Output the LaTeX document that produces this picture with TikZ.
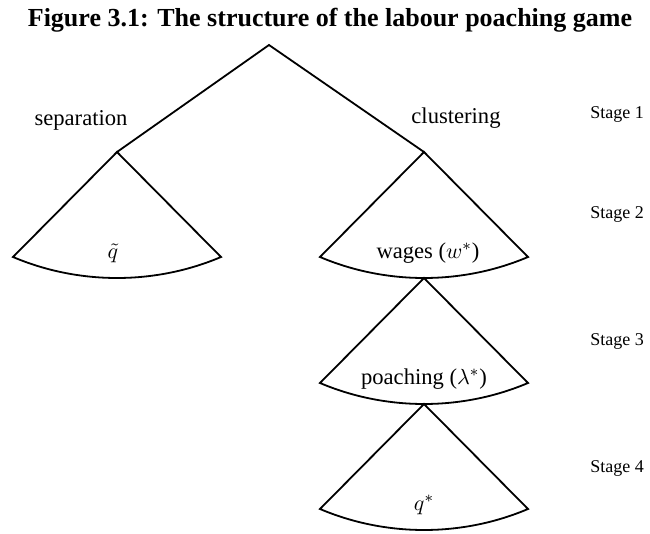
\documentclass[tikz,border=0pt]{standalone}
\usepackage{fontspec}
\setmainfont{Liberation Serif}
\usetikzlibrary{positioning}

\tikzset{
  treeline/.style={line width=0.9pt, line join=miter},
  branchlbl/.style={font=\fontsize{11.3}{13}\selectfont},
  leaflbl/.style={font=\fontsize{11.3}{13}\selectfont},
  stagelbl/.style={anchor=west, inner sep=0pt, font=\fontsize{9}{11}\selectfont},
  fan/.pic={
    \draw[treeline] (0,0) -- (-104,105) .. controls (-38,133) and (38,133) .. (104,105) -- cycle;
    \coordinate (-bot) at (0,126);
    \coordinate (-lbl) at (0,101);
  }
}

\begin{document}
\begin{tikzpicture}[x=0.5pt, y=-0.5pt]
  \useasboundingbox (0,0) rectangle (650,534);
  \node[font=\bfseries\fontsize{13}{15}\selectfont] (title) at (330,20) {Figure 3.1: The structure of the labour poaching game};

  % first move
  \coordinate (root) at (269,45);
  \coordinate (sep) at (117,152);
  \coordinate (clu) at (424,152);
  \draw[treeline] (sep) -- (root) -- (clu);
  \node[branchlbl] (seplbl) at (81,120) {separation};
  \node[branchlbl] (clulbl) at (456,118) {clustering};

  % later stages
  \pic (qfan) at (sep) {fan};
  \pic (wfan) at (clu) {fan};
  \pic (lfan) at (wfan-bot) {fan};
  \pic (sfan) at (lfan-bot) {fan};
  \node[leaflbl] (qt) at ([xshift=-2pt]qfan-lbl) {$\tilde{q}$};
  \node[leaflbl] (wage) at ([xshift=2pt]wfan-lbl) {wages ($w^{*}$)};
  \node[leaflbl] (poach) at (lfan-lbl) {poaching ($\lambda^{*}$)};
  \node[leaflbl] (qs) at (sfan-lbl) {$q^{*}$};

  \node[stagelbl] (st1) at (590,114) {Stage 1};
  \node[stagelbl] (st2) at (590,214) {Stage 2};
  \node[stagelbl] (st3) at (590,341) {Stage 3};
  \node[stagelbl] (st4) at (590,468) {Stage 4};
\end{tikzpicture}
\end{document}
